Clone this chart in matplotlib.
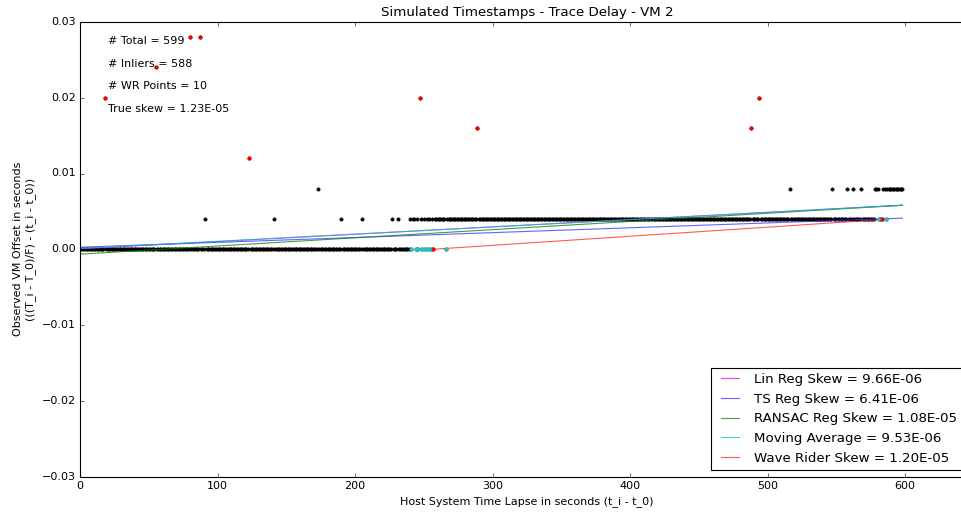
import matplotlib.pyplot as plt
import numpy as np

plt.style.use('classic')
plt.rcParams['font.size'] = 10

# offset levels by run of timestamps (start, end, offset in s)
level_runs = [(0, 257, 0.000), (258, 583, 0.004), (584, 598, 0.008)]

# samples that left the running level
jump_t = [91, 141, 190, 205, 227, 231, 240, 242, 243, 245, 248, 250, 252, 254, 256,
          173, 516, 547, 558, 562, 568, 578, 579, 580,
          266, 586]
jump_v = [0.004, 0.004, 0.004, 0.004, 0.004, 0.004, 0.004, 0.004, 0.004, 0.004, 0.004, 0.004, 0.004, 0.004, 0.004,
          0.008, 0.008, 0.008, 0.008, 0.008, 0.008, 0.008, 0.008, 0.008,
          0.000, 0.004]

# outliers (not inliers)
out_t = [18, 55, 80, 87, 123, 247, 257, 289, 488, 494, 583]
out_v = [0.020, 0.024, 0.028, 0.028, 0.012, 0.020, 0.000, 0.016, 0.016, 0.020, 0.004]

# wave rider points
wr_t = [241, 244, 246, 249, 251, 253, 255, 266, 581, 586]
wr_v = [0.000, 0.000, 0.000, 0.000, 0.000, 0.000, 0.000, 0.000, 0.004, 0.004]

# fitted skews and intercepts
fit_names = ['Lin Reg Skew', 'TS Reg Skew', 'RANSAC Reg Skew', 'Moving Average']
fit_skew = [9.66e-06, 6.41e-06, 1.08e-05, 9.53e-06]
fit_icpt = [0.00005, 0.00027, -0.00065, 0.0001]
fit_colors = ['#e000e0', '#3030ff', '#008000', '#00c8c8']

wr_skew = 1.20e-05
wr_span = [257, 583]

true_skew = 1.23e-05
n_total = 599
n_inliers = 588


def build_series():
    t = []
    v = []
    for start, end, level in level_runs:
        for s in range(start, end + 1):
            t.append(s)
            v.append(level)
    t = np.array(t)
    v = np.array(v)
    for s, val in zip(jump_t, jump_v):
        v[t == s] = val
    for s, val in zip(out_t, out_v):
        v[t == s] = val
    return t, v


t, v = build_series()

fig = plt.figure(figsize=(961 / 80.0, 514 / 80.0), dpi=80, facecolor='white')
ax = fig.add_axes([80 / 961.0, 37.5 / 514.0, 894 / 961.0, 454.5 / 514.0])

ax.plot(t, v, 'k.')

ends = np.array([t[0], t[-1]])
for name, skew, b, col in zip(fit_names, fit_skew, fit_icpt, fit_colors):
    ax.plot(ends, skew * ends + b, color=col, alpha=0.75,
            label='%s = %.2E' % (name, skew))

wr_x = np.array(wr_span)
ax.plot(wr_x, wr_skew * (wr_x - wr_span[0]), color='#ff2020', alpha=0.75,
        label='Wave Rider Skew = %.2E' % wr_skew)

ax.plot(wr_t, wr_v, '.', color='#20c8c8')
ax.plot(out_t, out_v, 'r.')

ax.text(20, 0.0275, '# Total = %d' % n_total, va='center')
ax.text(20, 0.0245, '# Inliers = %d' % n_inliers, va='center')
ax.text(20, 0.0215, '# WR Points = %d' % len(wr_t), va='center')
ax.text(20, 0.0185, 'True skew = %.2E' % true_skew, va='center')

ax.set_xlim(0, 650)
ax.set_ylim(-0.03, 0.03)
ax.set_title('Simulated Timestamps - Trace Delay - VM 2', fontsize=12)
ax.set_xlabel('Host System Time Lapse in seconds (t_i - t_0)')
ax.set_ylabel('Observed VM Offset in seconds\n(((T_i - T_0)/F) - (t_i - t_0))')
ax.legend(loc='lower right', fontsize=12, bbox_to_anchor=(0.9944, 0.0))

fig.savefig('out.png', dpi=80, facecolor='white')
